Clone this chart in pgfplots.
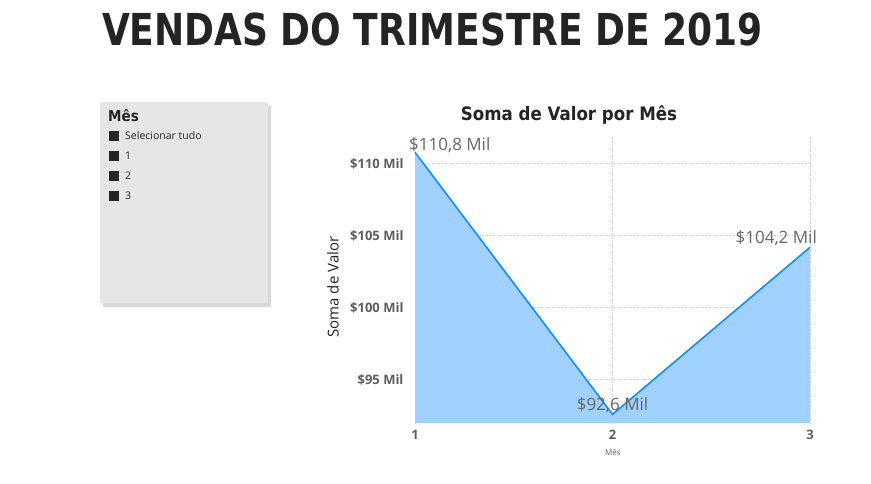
\documentclass[border=0pt]{standalone}
\usepackage{pgfplots}
\pgfplotsset{compat=1.18}
\usepackage{fontspec}
\setmainfont{Open Sans}
\newfontfamily\dinfont{DejaVu Sans Condensed}
\usetikzlibrary{shadows}
\definecolor{areafill}{HTML}{A0D1FF}
\definecolor{lineblue}{HTML}{118DFF}
\definecolor{txtdark}{HTML}{252423}
\definecolor{lblgray}{HTML}{605E5C}
\definecolor{datagray}{HTML}{666666}
\definecolor{panel}{HTML}{E6E6E6}
\begin{document}
\begin{tikzpicture}[x=1pt,y=-1pt]
\path[fill=white] (0,0) rectangle (871,483);
% big title
\node[anchor=base, xscale=0.91, font=\dinfont\bfseries\fontsize{44}{50}\selectfont, text=txtdark, inner sep=0pt] at (432.5,45) {VENDAS DO TRIMESTRE DE 2019};
% slicer panel
\fill[panel, drop shadow={shadow xshift=3pt, shadow yshift=-4pt, opacity=0.3}] (100,102) rectangle (268,303);
\node[anchor=base west, font=\dinfont\bfseries\fontsize{15}{18}\selectfont, text=txtdark, inner sep=0pt] at (108,121) {Mês};
\foreach \yy/\tt in {136/Selecionar tudo,156/1,176/2,196/3}{
  \fill[txtdark] (109,\yy-5) rectangle (119,\yy+5);
  \node[anchor=west, font=\fontsize{10.5}{12}\selectfont, text=txtdark, inner sep=0pt] at (125,\yy) {\tt};
}
% chart title
\node[anchor=base, font=\dinfont\bfseries\fontsize{18.5}{22}\selectfont, text=txtdark, inner sep=0pt] at (569,120) {Soma de Valor por Mês};
% axis labels
\node[rotate=90, font=\fontsize{15}{17}\selectfont, text=txtdark, inner sep=0pt] at (333,287) {Soma de Valor};
\node[font=\fontsize{8}{10}\selectfont, text=lblgray, inner sep=0pt] at (613,452) {Mês};
\begin{axis}[
  at={(415pt,-423pt)}, anchor=south west,
  scale only axis, width=395pt, height=288pt,
  xmin=1, xmax=3, ymin=92, ymax=112,
  xtick={1,2,3}, xticklabels={1,2,3},
  ytick={95,100,105,110},
  yticklabels={\$95 Mil,\$100 Mil,\$105 Mil,\$110 Mil},
  axis line style={draw=none},
  tick style={draw=none},
  grid=major,
  major grid style={dotted, gray!40, line width=0.7pt},
  tick label style={font=\bfseries\fontsize{13}{15}\selectfont, text=lblgray},
  yticklabel style={xshift=-8pt},
  xticklabel style={yshift=-4pt},
  /pgf/number format/assume math mode=true,
  clip=false,
]
\addplot[fill=areafill, draw=none] coordinates {(1,110.8) (2,92.6) (3,104.2)} |- (axis cs:1,92) -- cycle;
\addplot[lineblue, line width=1.6pt] coordinates {(1,110.8) (2,92.6) (3,104.2)};
\node[anchor=west, xshift=-6pt, yshift=7.5pt, font=\fontsize{17}{19}\selectfont, text=datagray, inner sep=0pt] at (axis cs:1,110.8) {\$110,8 Mil};
\node[anchor=center, yshift=9pt, font=\fontsize{17}{19}\selectfont, text=datagray, inner sep=0pt] at (axis cs:2,92.6) {\$92,6 Mil};
\node[anchor=east, xshift=7pt, yshift=9pt, font=\fontsize{17}{19}\selectfont, text=datagray, inner sep=0pt] at (axis cs:3,104.2) {\$104,2 Mil};
\end{axis}
\end{tikzpicture}
\end{document}
